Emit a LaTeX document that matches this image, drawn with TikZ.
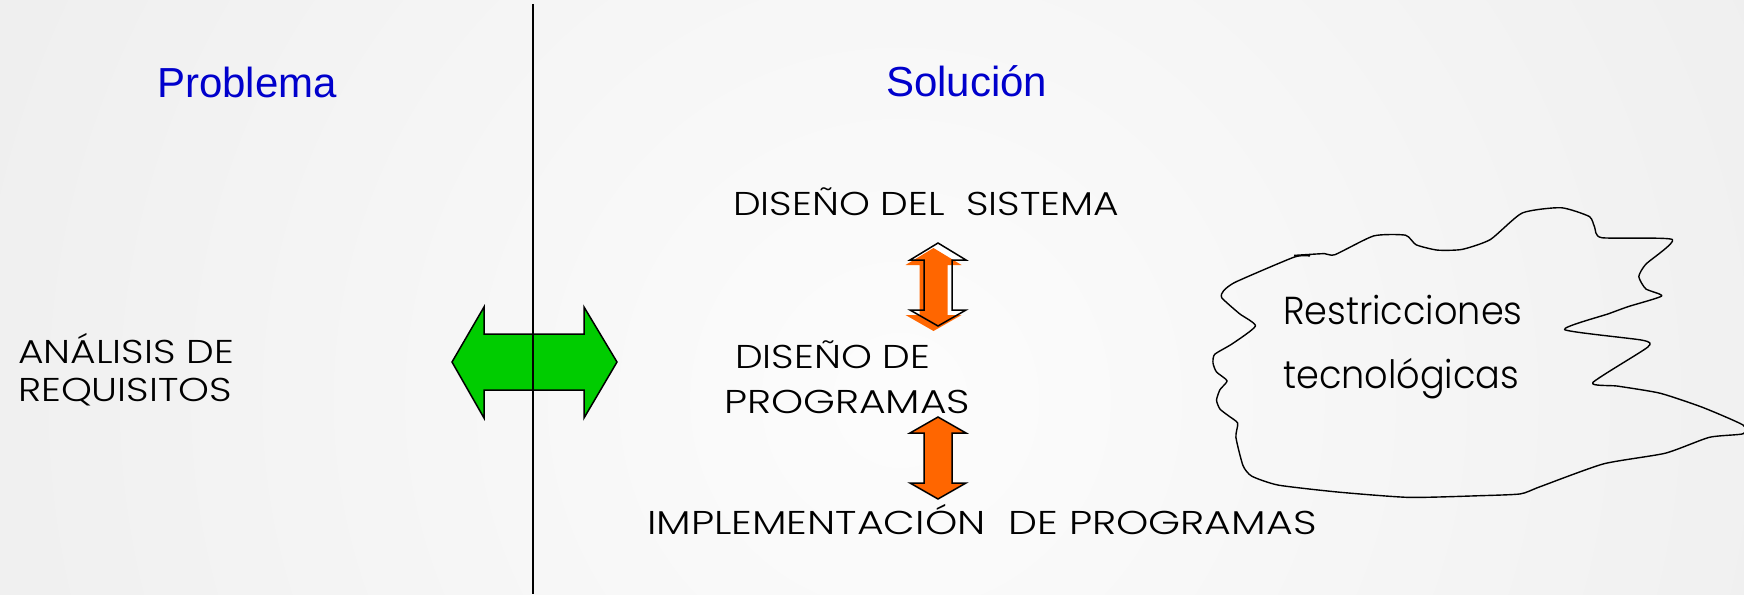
\documentclass[tikz,border=0pt]{standalone}
\usepackage{fontspec}
\setmainfont{Liberation Sans}
\IfFontExistsTF{Poppins Light}{%
  \newfontfamily\geo{Poppins Light}[FakeStretch=1.19]
  \newfontfamily\geowide{Poppins Light}[FakeStretch=1.245]
  \newfontfamily\geocloud{Poppins Light}[FakeStretch=0.94]
}{%
  \newfontfamily\geo{Poppins}[FakeStretch=1.17]
  \newfontfamily\geowide{Poppins}[FakeStretch=1.22]
  \newfontfamily\geocloud{Poppins}[FakeStretch=0.93]
}
\definecolor{headblue}{RGB}{0,0,204}
\definecolor{arrgreen}{RGB}{0,204,0}
\definecolor{arrorange}{RGB}{255,102,0}
\begin{document}
\begin{tikzpicture}[x=1pt,y=-1pt,
  heading/.style={anchor=base west, inner sep=0pt, text=headblue, font=\fontsize{42}{50}\selectfont},
  txt/.style={anchor=base west, inner sep=0pt, font=\geo\fontsize{33}{40}\selectfont},
  widetxt/.style={anchor=base west, inner sep=0pt, font=\geowide\fontsize{33}{40}\selectfont},
  bigtxt/.style={anchor=base west, inner sep=0pt, font=\geocloud\fontsize{39}{48}\selectfont},
  blockarrow/.style={draw=black, line width=1.5pt, line join=miter},
  cloudline/.style={draw=black, line width=1.4pt, line join=round},
]
\useasboundingbox (0,0) rectangle (1744,594);
\begin{scope}
  \clip (0,0) rectangle (1744,594);
  \shade[inner color=white!99!black, outer color=white!88!black] (900,400) circle (2000pt);
\end{scope}

% green double arrow
\draw[blockarrow, fill=arrgreen] (452,362) -- (484,307) -- (484,334) -- (584,334) -- (584,307)
  -- (617,362) -- (584,418) -- (584,390) -- (484,390) -- (484,418) -- cycle;

% divider
\coordinate (divtop) at (533,4);
\coordinate (divbot) at (533,594);
\draw[line width=2pt] (divtop) -- (divbot);

% headings
\node[heading] (problema) at (157,97.7) {Problema};
\node[heading] (solucion) at (886,96.7) {Solución};

% labels
\node[txt] (disenosis) at (733,215) {DISEÑO DEL\ \ SISTEMA};
\node[txt] (analisis1) at (18,363) {ANÁLISIS DE};
\node[txt] (analisis2) at (18,401.7) {REQUISITOS};
\node[txt] (disprog1) at (735,368.3) {DISEÑO DE};
\node[txt, xscale=1.04] (disprog2) at (724,413.3) {PROGRAMAS};
\node[widetxt] (impl) at (647,534) {IMPLEMENTACIÓN\ \ DE PROGRAMAS};

% upper double arrow (misregistered fill)
\fill[white] (938,243) -- (966,260) -- (952,260) -- (952,310) -- (966,310) -- (938,326)
  -- (910,310) -- (924,310) -- (924,260) -- (910,260) -- cycle;
\fill[arrorange, shift={(-4.5,5)}] (938,243) -- (966,260) -- (952,260) -- (952,310) -- (966,310) -- (938,326)
  -- (910,310) -- (924,310) -- (924,260) -- (910,260) -- cycle;
\draw[blockarrow] (938,243) -- (966,260) -- (952,260) -- (952,310) -- (966,310) -- (938,326)
  -- (910,310) -- (924,310) -- (924,260) -- (910,260) -- cycle;

% lower double arrow
\draw[blockarrow, fill=arrorange] (938,417) -- (966,433) -- (952,433) -- (952,483) -- (966,483) -- (938,499)
  -- (910,483) -- (924,483) -- (924,433) -- (910,433) -- cycle;

% cloud
\draw[cloudline] plot[smooth, tension=0.35] coordinates {
 (1294.2,255.4) (1324.3,253.6) (1334.9,254.7) (1373.7,235.9) (1405.5,235.2) (1416.1,244.8)
 (1437.3,250.1) (1462.1,249.4) (1490.4,239.5) (1522.2,213.0) (1561.0,207.7) (1589.3,216.5)
 (1594.6,227.1) (1601.7,237.7) (1672.3,239.5) (1645.8,264.2) (1638.8,276.6) (1645.8,288.9)
 (1661.7,296.0) (1628.2,306.6) (1608.7,313.7) (1564.6,329.6) (1642.3,340.2) (1647.6,347.2)
 (1592.8,382.6) (1617.6,386.1) (1660.0,393.2) (1702.4,407.3) (1743.0,425.0) (1743.0,433.8)
 (1709.4,437.3) (1665.3,453.2) (1603.4,463.9) (1539.8,486.8) (1520.4,493.9) (1479.8,495.7)
 (1409.1,497.4) (1338.4,492.1) (1278.3,485.1) (1251.8,476.2) (1243.0,465.6) (1235.9,437.3)
 (1237.7,423.2) (1228.9,416.1) (1220.0,409.1) (1216.5,400.2) (1220.0,389.6) (1227.1,380.8)
 (1216.5,372.0) (1213.0,363.1) (1214.7,354.3) (1232.4,343.7) (1255.4,326.0) (1239.5,313.7)
 (1221.8,297.8) (1223.6,290.7) (1235.9,281.9) (1294.2,257.1) (1310,256)};

\node[bigtxt] (restr1) at (1283,324) {Restricciones};
\node[bigtxt] (restr2) at (1283,388) {tecnológicas};
\end{tikzpicture}
\end{document}
